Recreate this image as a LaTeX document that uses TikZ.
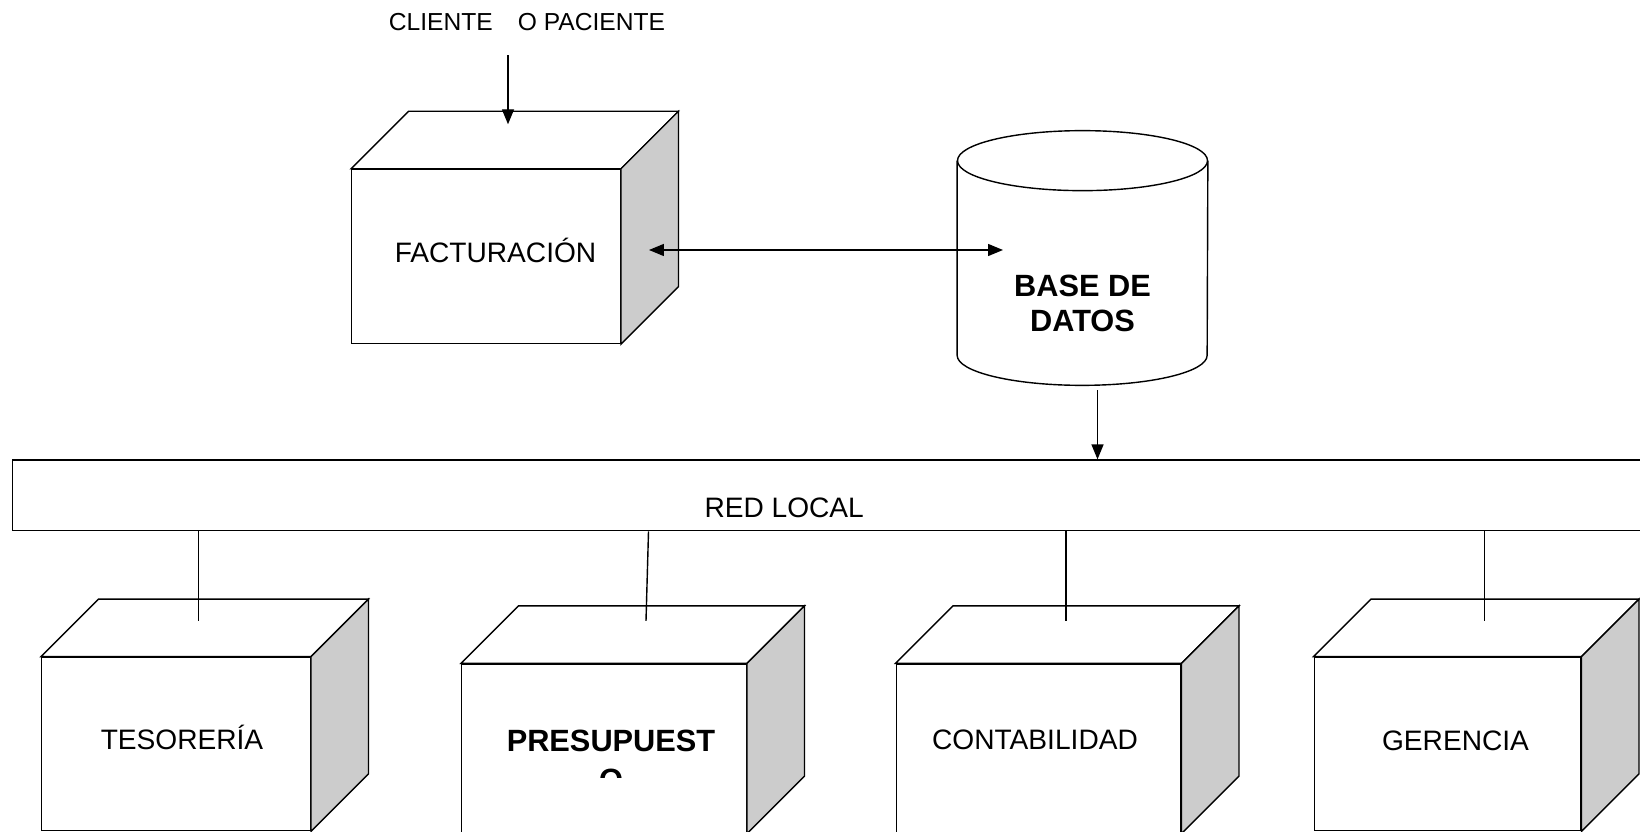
\documentclass[tikz,border=0pt]{standalone}
\usepackage{fontspec}
\setmainfont{Liberation Sans}
\usetikzlibrary{positioning, arrows.meta, calc}
\tikzset{
  % front face of a module box
  cube/.style={
    rectangle, draw, fill=white, line width=0.8pt, inner sep=0pt
  },
  % plain and bold labels
  txt/.style={font=\fontsize{16pt}{19pt}\selectfont, inner sep=0pt},
  boldtxt/.style={font=\fontsize{17.5pt}{20pt}\selectfont\bfseries, align=center, inner sep=0pt},
  % top and side faces
  face/.style={draw, line width=0.8pt, line join=miter},
  % arrows and plain links
  arr/.style={-{Triangle[length=0.3cm, width=0.24cm]}, line width=0.8pt},
  dblarr/.style={arr, {Triangle[length=0.3cm, width=0.24cm]}-{Triangle[length=0.3cm, width=0.24cm]}},
  link/.style={line width=0.8pt},
}
\begin{document}
\begin{tikzpicture}
  \useasboundingbox (0,0) rectangle (32.8,-16.64);
  \clip (0,0) rectangle (32.8,-16.64);

  \node[txt, font=\fontsize{14pt}{17pt}\selectfont] (cli) at (10.54,-0.45) {CLIENTE\hspace{0.5cm}O PACIENTE};

  % module boxes
  \node[cube, minimum width=5.37cm, minimum height=3.48cm] (fact) at (9.72,-5.13) {};
  \node[cube, minimum width=5.37cm, minimum height=3.47cm] (teso) at (3.52,-14.88) {};
  \node[cube, minimum width=5.69cm, minimum height=3.38cm] (pres) at (12.08,-14.97) {};
  \node[cube, minimum width=5.69cm, minimum height=3.38cm] (cont) at (20.77,-14.97) {};
  \node[cube, minimum width=5.33cm, minimum height=3.47cm] (ger) at (28.95,-14.88) {};
  \foreach \n in {fact,teso,pres,cont,ger} {
    \draw[face, fill=white] (\n.north west) -- ++(1.15,1.15) -- ($(\n.north east)+(1.15,1.15)$) -- (\n.north east) -- cycle;
    \draw[face, fill=black!20] (\n.north east) -- ++(1.15,1.15) -- ($(\n.south east)+(1.15,1.15)$) -- (\n.south east) -- cycle;
  }
  \node[txt] (facttxt) at ($(fact.center)+(0.19,0.13)$) {FACTURACIÓN};
  \node[txt] (tesotxt) at ($(teso.center)+(0.12,0.14)$) {TESORERÍA};
  \node[txt] (conttxt) at ($(cont.center)+(-0.07,0.18)$) {CONTABILIDAD};
  \node[txt] (gertxt) at ($(ger.center)+(0.16,0.07)$) {GERENCIA};
  \begin{scope}
    \clip (pres.north west) rectangle ($(pres.north east)+(0,-2.29)$);
    \node[boldtxt, font=\fontsize{17.5pt}{22.3pt}\selectfont\bfseries] (prestxt) at ($(pres.center)+(0.14,-0.24)$) {PRESUPUEST\\O};
  \end{scope}

  % database
  \node[minimum width=5cm, minimum height=5.08cm, inner sep=0pt] (db) at (21.65,-5.16) {};
  \draw[face, fill=white] ($(db.north west)+(0,-0.6)$) -- ($(db.south west)+(0,0.6)$)
    arc[start angle=180, end angle=360, x radius=2.5cm, y radius=0.6cm] -- ($(db.north east)+(0,-0.6)$);
  \draw[face] ($(db.north)+(0,-0.6)$) ellipse [x radius=2.5cm, y radius=0.6cm];
  \node[boldtxt] (dbtxt) at ($(db.center)+(0,-0.9)$) {BASE DE\\DATOS};

  % local network
  \node[draw, link, minimum width=34cm, minimum height=1.41cm, anchor=west, inner sep=0pt] (lan) at (0.234,-9.907) {};
  \node[txt] (lantxt) at ($(lan.west)+(15.45,-0.25)$) {RED LOCAL};

  % connectors
  \coordinate (factin) at ($(fact.north)+(0.44,0.89)$);
  \draw[arr, shorten <=0.47cm] (cli.south -| factin) -- (factin);
  \coordinate (factport) at ($(fact.east)+(0.56,0.13)$);
  \coordinate (dbport) at ($(db.center)+(-1.59,0)$);
  \draw[dblarr] (factport) -- (factport -| dbport);
  \coordinate (dbout) at ($(db.south)+(0.3,0)$);
  \draw[arr, shorten <=0.1cm] (dbout) -- (dbout |- lan.north);

  \coordinate (tesotop) at ($(teso.north)+(0.45,0.71)$);
  \coordinate (prestop) at ($(pres.north)+(0.84,0.85)$);
  \coordinate (conttop) at ($(cont.north)+(0.55,0.85)$);
  \coordinate (gertop) at ($(ger.north)+(0.74,0.71)$);
  \draw[link] (tesotop |- lan.south) -- (tesotop);
  \draw[link] ($(prestop |- lan.south)+(0.05,0)$) -- (prestop);
  \draw[link] (conttop |- lan.south) -- (conttop);
  \draw[link] (gertop |- lan.south) -- (gertop);
\end{tikzpicture}
\end{document}
